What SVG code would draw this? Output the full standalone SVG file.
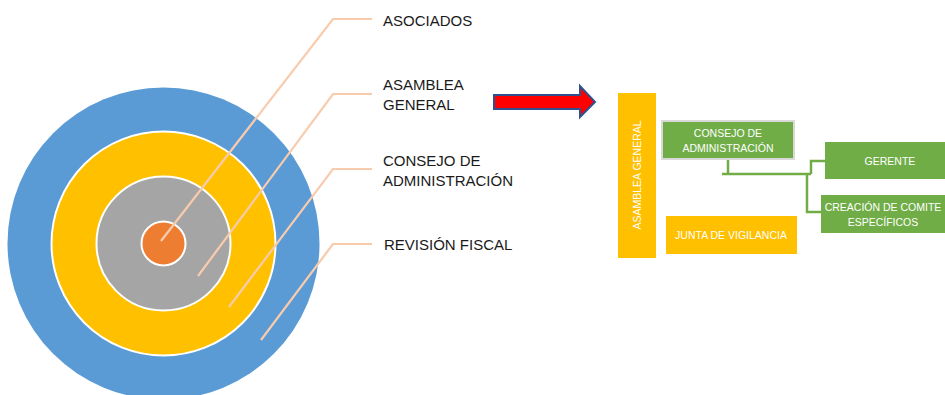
<svg xmlns="http://www.w3.org/2000/svg" width="945" height="395" viewBox="0 0 945 395">
<defs>
<style>
.lbl{font-family:"Liberation Sans",Arial,sans-serif;font-size:15px;fill:#1a1a1a}
.bx{font-family:"Liberation Sans",Arial,sans-serif;font-size:10.5px;fill:#ffffff;text-anchor:middle}
.lead{fill:none;stroke:#F8CBAD;stroke-width:2.2}
.conn{fill:none;stroke:#70AD47;stroke-width:2.5}
.green{fill:#70AD47}
.yellow{fill:#FFC000}
</style>
</defs>
<rect width="945" height="395" fill="#ffffff"/>
<g id="rings">
<circle cx="163.5" cy="243.5" r="156" fill="#5B9BD5"/>
<circle cx="163.5" cy="243.5" r="112" fill="#FFC000" stroke="#ffffff" stroke-width="2"/>
<circle cx="163.5" cy="243.5" r="67" fill="#A5A5A5" stroke="#ffffff" stroke-width="2"/>
<circle cx="163.5" cy="243.5" r="22" fill="#ED7D31" stroke="#ffffff" stroke-width="2"/>
</g>
<g id="connectors">
<path class="lead" d="M161,241 L333,19 H372"/>
<path class="lead" d="M198,276 L333,94 H372"/>
<path class="lead" d="M229,307 L333,169 H372"/>
<path class="lead" d="M261,340 L333,244 H372"/>
<path class="conn" d="M728,159 V174 M722,174 H811 M811,174 V161 H825 M807,174 V212 H821"/>
</g>
<g id="label-asociados"><text class="lbl" x="383" y="26">ASOCIADOS</text></g>
<g id="label-asamblea"><text class="lbl" x="383" y="90">ASAMBLEA</text><text class="lbl" x="383" y="110">GENERAL</text></g>
<g id="label-consejo"><text class="lbl" x="383" y="166">CONSEJO DE</text><text class="lbl" x="383" y="186">ADMINISTRACIÓN</text></g>
<g id="label-revision"><text class="lbl" x="384" y="250">REVISIÓN FISCAL</text></g>
<g id="arrow">
<path d="M494,95 H580 V86 L595,102 L580,117 V109 H494 Z" fill="#FF0000" stroke="#2F528F" stroke-width="2" stroke-linejoin="miter"/>
</g>
<g id="node-asamblea">
<rect class="yellow" x="618" y="93" width="38" height="165"/>
<text class="bx" transform="translate(641,175) rotate(-90)">ASAMBLEA GENERAL</text>
</g>
<g id="node-consejo">
<rect class="green" x="662" y="121" width="132" height="38" stroke="#D9D9D9" stroke-width="2"/>
<text class="bx" x="728" y="137">CONSEJO DE</text>
<text class="bx" x="728" y="152">ADMINISTRACIÓN</text>
</g>
<g id="node-gerente">
<rect class="green" x="825" y="142" width="122" height="37"/>
<text class="bx" x="890" y="165">GERENTE</text>
</g>
<g id="node-comite">
<rect class="green" x="821" y="195" width="126" height="38"/>
<text class="bx" x="883" y="211">CREACIÓN DE COMITE</text>
<text class="bx" x="883" y="226">ESPECÍFICOS</text>
</g>
<g id="node-junta">
<rect class="yellow" x="666" y="216" width="131" height="38"/>
<text class="bx" x="731" y="239">JUNTA DE VIGILANCIA</text>
</g>
</svg>
